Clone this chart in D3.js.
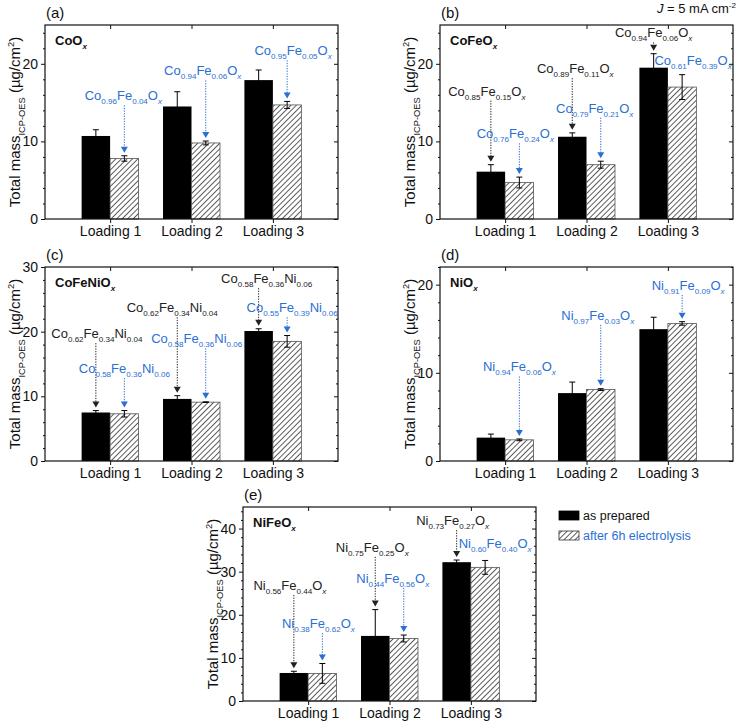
<!DOCTYPE html>
<html>
<head>
  <title>Total mass ICP-OES</title>
  <script src="https://cdnjs.cloudflare.com/ajax/libs/d3/7.8.5/d3.min.js"></script>
  <style>
    body { margin: 0; background: #fff; }
    text { font-family: "Liberation Sans", Arial, sans-serif; }
    .axis path.domain { display: none; }
    .axis line { stroke: #111; stroke-width: 1; }
    .axis text { font-size: 14px; fill: #111; }
  </style>
</head>
<body>
<svg width="737" height="721"></svg>
<script>
// categories and values, one row per panel (a)..(e)
var categories = ["Loading 1", "Loading 2", "Loading 3"];
var panelLetters = ["(a)", "(b)", "(c)", "(d)", "(e)"];
var panelTitles = ["CoO_{x}", "CoFeO_{x}", "CoFeNiO_{x}", "NiO_{x}", "NiFeO_{x}"];
var yMax = [25, 25, 30, 22, 45];
var yTicks = [[0, 10, 20], [0, 10, 20], [0, 10, 20, 30], [0, 10, 20], [0, 10, 20, 30, 40]];

var preparedMass = [[10.7, 14.5, 17.9], [6.1, 10.6, 19.5], [7.5, 9.6, 20.1], [2.65, 7.7, 14.95], [6.5, 15.1, 32.2]];
var preparedErr  = [[0.8, 1.9, 1.3],    [0.9, 0.5, 1.8],   [0.3, 0.5, 0.35], [0.4, 1.25, 1.35],  [0.4, 6.1, 0.5]];
var afterMass    = [[7.8, 9.8, 14.7],   [4.7, 7.0, 17.0],  [7.3, 9.1, 18.5], [2.4, 8.1, 15.6],   [6.4, 14.5, 31.0]];
var afterErr     = [[0.35, 0.25, 0.45], [0.7, 0.45, 1.6],  [0.5, 0.05, 0.9], [0.1, 0.1, 0.2],    [2.3, 0.8, 1.6]];

// composition labels: panel, category, series, text, label baseline (data units), text shift px, arrow
var annotations = [
  [0, 0, "after", "Co_{0.96}Fe_{0.04}O_{x}", 15.3, -1, true],
  [0, 1, "after", "Co_{0.94}Fe_{0.06}O_{x}", 18.5, -3, true],
  [0, 2, "after", "Co_{0.95}Fe_{0.05}O_{x}", 21.1, 6, true],
  [1, 0, "prep",  "Co_{0.85}Fe_{0.15}O_{x}", 15.9, -4, true],
  [1, 0, "after", "Co_{0.76}Fe_{0.24}O_{x}", 10.4, -4, true],
  [1, 1, "prep",  "Co_{0.89}Fe_{0.11}O_{x}", 18.8, 3, true],
  [1, 1, "after", "Co_{0.79}Fe_{0.21}O_{x}", 13.7, -6, true],
  [1, 2, "prep",  "Co_{0.94}Fe_{0.06}O_{x}", 23.4, 0, true],
  [1, 2, "after", "Co_{0.61}Fe_{0.39}O_{x}", 19.8, 11, false],
  [2, 0, "prep",  "Co_{0.62}Fe_{0.34}Ni_{0.04}", 19.0, 1, true],
  [2, 0, "after", "Co_{0.58}Fe_{0.36}Ni_{0.06}", 13.6, 0, true],
  [2, 1, "prep",  "Co_{0.62}Fe_{0.34}Ni_{0.04}", 23.0, -5, true],
  [2, 1, "after", "Co_{0.58}Fe_{0.36}Ni_{0.06}", 18.2, -9, true],
  [2, 2, "prep",  "Co_{0.58}Fe_{0.36}Ni_{0.06}", 27.5, 8, true],
  [2, 2, "after", "Co_{0.55}Fe_{0.39}Ni_{0.06}", 23.0, 5, true],
  [3, 0, "after", "Ni_{0.94}Fe_{0.06}O_{x}", 10.15, 0, true],
  [3, 1, "after", "Ni_{0.97}Fe_{0.03}O_{x}", 16.0, -3, true],
  [3, 2, "after", "Ni_{0.91}Fe_{0.09}O_{x}", 19.4, 6, true],
  [4, 0, "prep",  "Ni_{0.56}Fe_{0.44}O_{x}", 25.75, -4, true],
  [4, 0, "after", "Ni_{0.38}Fe_{0.62}O_{x}", 16.9, -4, true],
  [4, 1, "prep",  "Ni_{0.75}Fe_{0.25}O_{x}", 34.6, -3, true],
  [4, 1, "after", "Ni_{0.44}Fe_{0.56}O_{x}", 27.4, -11, true],
  [4, 2, "prep",  "Ni_{0.73}Fe_{0.27}O_{x}", 40.8, -4, true],
  [4, 2, "after", "Ni_{0.60}Fe_{0.40}O_{x}", 35.5, 10, false]
];

var legendLabels = ["as prepared", "after 6h electrolysis"];
var yLabel = "Total mass_{ICP-OES} (\u00b5g/cm^{2})";

// layout
var boxes = [{x: 45, y: 25}, {x: 440, y: 25}, {x: 45, y: 267}, {x: 440, y: 267}, {x: 243, y: 507}];
var W = 293, H = 194, barW = 0.35;
var blue = "#2a6fd4";

var svg = d3.select("svg");

var defs = svg.append("defs");
var pat = defs.append("pattern")
    .attr("id", "hatch")
    .attr("patternUnits", "userSpaceOnUse")
    .attr("width", 3.9).attr("height", 3.9)
    .attr("patternTransform", "rotate(45)");
pat.append("rect").attr("width", 3.9).attr("height", 3.9).attr("fill", "#fff");
pat.append("line").attr("x1", 0.5).attr("y1", 0).attr("x2", 0.5).attr("y2", 3.9)
    .attr("stroke", "#333").attr("stroke-width", 0.8);

// text with _{sub} and ^{sup} parts
function richText(sel, str, size) {
  var re = /([_^])\{([^}]*)\}/g, last = 0, m, parts = [], shift = 0;
  while ((m = re.exec(str))) {
    if (m.index > last) parts.push({t: str.slice(last, m.index), k: ""});
    parts.push({t: m[2], k: m[1]});
    last = re.lastIndex;
  }
  if (last < str.length) parts.push({t: str.slice(last), k: ""});
  parts.forEach(function(p) {
    var target = p.k === "_" ? size * 0.3 : p.k === "^" ? -size * 0.42 : 0;
    var ts = sel.append("tspan").text(p.t)
        .attr("dy", target - shift)
        .attr("font-size", p.k ? size * 0.62 : size);
    if (p.k && p.t === "x") ts.attr("font-style", "italic");
    shift = target;
  });
  return sel;
}

boxes.forEach(function(b, p) {
  var g = svg.append("g").attr("transform", "translate(" + b.x + "," + b.y + ")");

  var x = d3.scaleLinear().domain([0.2, 3.8]).range([0, W]);
  var y = d3.scaleLinear().domain([0, yMax[p]]).range([H, 0]);
  var minor = d3.range(0, yMax[p] + 0.01, 2).filter(function(v) { return v % 10 !== 0; });

  // bars
  var bw = x(barW) - x(0);
  var prep = preparedMass[p].map(function(v, i) { return {v: v, e: preparedErr[p][i], c: i + 1}; });
  var aft = afterMass[p].map(function(v, i) { return {v: v, e: afterErr[p][i], c: i + 1}; });

  g.selectAll(".prep").data(prep).enter().append("rect")
      .attr("x", function(d) { return x(d.c - barW); })
      .attr("y", function(d) { return y(d.v); })
      .attr("width", bw)
      .attr("height", function(d) { return H - y(d.v); })
      .attr("fill", "#000");

  g.selectAll(".aft").data(aft).enter().append("rect")
      .attr("x", function(d) { return x(d.c); })
      .attr("y", function(d) { return y(d.v); })
      .attr("width", bw)
      .attr("height", function(d) { return H - y(d.v); })
      .attr("fill", "url(#hatch)")
      .attr("stroke", "#555").attr("stroke-width", 0.8);

  // error bars
  function errBars(data, off) {
    var eg = g.selectAll(null).data(data).enter().append("g")
        .attr("stroke", "#000").attr("stroke-width", 1);
    eg.append("line")
        .attr("x1", function(d) { return x(d.c + off); })
        .attr("x2", function(d) { return x(d.c + off); })
        .attr("y1", function(d) { return y(d.v - d.e); })
        .attr("y2", function(d) { return y(d.v + d.e); });
    [1, -1].forEach(function(s) {
      eg.append("line")
          .attr("x1", function(d) { return x(d.c + off) - 3; })
          .attr("x2", function(d) { return x(d.c + off) + 3; })
          .attr("y1", function(d) { return y(d.v + s * d.e); })
          .attr("y2", function(d) { return y(d.v + s * d.e); });
    });
  }
  errBars(prep, -barW / 2);
  errBars(aft, barW / 2);

  // frame and axes
  g.append("rect").attr("width", W).attr("height", H)
      .attr("fill", "none").attr("stroke", "#111").attr("stroke-width", 1.2);

  g.append("g").attr("class", "axis")
      .call(d3.axisLeft(y).tickValues(yTicks[p]).tickSize(4).tickPadding(3).tickFormat(d3.format("d")));
  g.append("g").attr("class", "axis")
      .call(d3.axisLeft(y).tickValues(minor).tickSize(2).tickFormat(""));
  g.append("g").attr("class", "axis").attr("transform", "translate(" + W + ",0)")
      .call(d3.axisLeft(y).tickValues(yTicks[p]).tickSize(4).tickFormat(""));
  g.append("g").attr("class", "axis").attr("transform", "translate(" + W + ",0)")
      .call(d3.axisLeft(y).tickValues(minor).tickSize(2).tickFormat(""));
  g.append("g").attr("class", "axis")
      .call(d3.axisBottom(x).tickValues([1, 2, 3]).tickSize(4).tickFormat(""));
  g.append("g").attr("class", "axis").attr("transform", "translate(0," + H + ")")
      .call(d3.axisBottom(x).tickValues([1, 2, 3]).tickSize(4).tickPadding(3)
        .tickFormat(function(d) { return categories[d - 1]; }));

  // y label
  var yl = g.append("text")
      .attr("transform", "translate(-25," + (H / 2) + ") rotate(-90)")
      .attr("text-anchor", "middle").attr("fill", "#111");
  richText(yl, yLabel, 15);

  // panel letter and title
  g.append("text").attr("x", 1).attr("y", -7).attr("font-size", 15).attr("fill", "#111")
      .text(panelLetters[p]);
  var tt = g.append("text").attr("x", 10).attr("y", 20).attr("font-weight", "bold").attr("fill", "#111");
  richText(tt, panelTitles[p], 13);

  // composition annotations
  annotations.filter(function(a) { return a[0] === p; }).forEach(function(a) {
    var isPrep = a[2] === "prep";
    var col = isPrep ? "#222" : blue;
    var d = isPrep ? prep[a[1]] : aft[a[1]];
    var cx = x(d.c + (isPrep ? -barW / 2 : barW / 2));
    var ly = y(a[4]);
    var t = g.append("text").attr("x", cx + a[5]).attr("y", ly)
        .attr("text-anchor", "middle").attr("fill", col);
    richText(t, a[3], 13);
    if (a[6]) {
      var tip = y(d.v + d.e) - 3;
      g.append("line").attr("x1", cx).attr("x2", cx).attr("y1", ly + 5).attr("y2", tip - 5)
          .attr("stroke", col).attr("stroke-width", 1).attr("stroke-dasharray", "1.3,1.3");
      g.append("path")
          .attr("d", "M" + (cx - 3.5) + "," + (tip - 6) + "L" + (cx + 3.5) + "," + (tip - 6) + "L" + cx + "," + tip + "Z")
          .attr("fill", col);
    }
  });
});

// current density note
var jt = svg.append("text").attr("x", 736).attr("y", 13).attr("text-anchor", "end")
    .attr("font-size", 13).attr("fill", "#111");
jt.append("tspan").attr("font-style", "italic").text("J");
richText(jt, " = 5 mA cm^{-2}", 13);

// legend
var lg = svg.append("g").attr("transform", "translate(559,511)");
legendLabels.forEach(function(l, i) {
  lg.append("rect").attr("x", 0).attr("y", i * 20).attr("width", 20).attr("height", 9)
      .attr("fill", i === 0 ? "#000" : "url(#hatch)")
      .attr("stroke", i === 0 ? "#000" : "#333").attr("stroke-width", 0.8);
  lg.append("text").attr("x", 24).attr("y", i * 20 + 9).attr("font-size", 12.5)
      .attr("fill", i === 0 ? "#111" : blue).text(l);
});
</script>
</body>
</html>
